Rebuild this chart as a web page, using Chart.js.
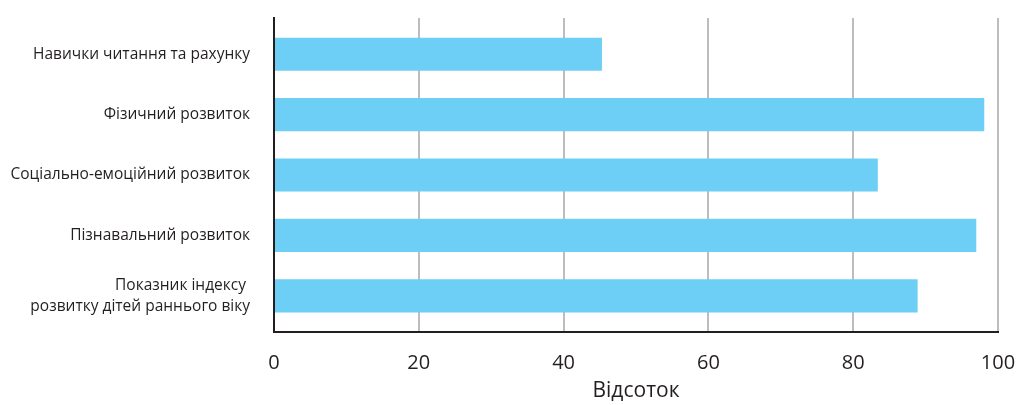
<!DOCTYPE html>
<html>
<head>
<meta charset="utf-8">
<script src="https://cdn.jsdelivr.net/npm/chart.js@4"></script>
<style>
  html, body { margin: 0; background: #fff; }
  #wrap { width: 1017px; height: 405px; }
</style>
</head>
<body>
<div id="wrap"><canvas id="chart"></canvas></div>
<script>
const categories = [
  "Навички читання та рахунку",
  "Фізичний розвиток",
  "Соціально-емоційний розвиток",
  "Пізнавальний розвиток",
  ["Показник індексу ", "розвитку дітей раннього віку"]
];
const values = [45.3, 98.1, 83.4, 97.0, 88.9];
const xTicks = [0, 20, 40, 60, 80, 100];
const xTitle = "Відсоток";

const textColor = "#231f20";
const fontFamily = "'Open Sans', sans-serif";

const ctx = document.getElementById("chart");

let chart = new Chart(ctx, {
  type: "bar",
  data: {
    datasets: [{
      data: values.map((v, i) => ({ x: v, y: i })),
      backgroundColor: "#6dcff6",
      categoryPercentage: 1,
      barPercentage: 0.55
    }]
  },
  options: {
    indexAxis: "y",
    responsive: true,
    maintainAspectRatio: false,
    animation: false,
    layout: { padding: { top: 18, right: 19, left: 0, bottom: 0 } },
    plugins: { legend: { display: false }, tooltip: { enabled: false } },
    scales: {
      x: {
        type: "linear",
        min: 0,
        max: 100,
        afterBuildTicks: s => { s.ticks = xTicks.map(v => ({ value: v })); },
        afterFit: s => { s.height = 73; s.paddingLeft = 0; s.paddingRight = 0; },
        grid: { color: "#bdbdc1", lineWidth: 2, drawTicks: false },
        border: { color: textColor, width: 2 },
        ticks: { color: textColor, font: { family: fontFamily, size: 20 }, padding: 19 },
        title: {
          display: true,
          text: xTitle,
          color: textColor,
          font: { family: fontFamily, size: 21 },
          padding: { top: 0, bottom: 1 }
        }
      },
      y: {
        type: "linear",
        offset: false,
        reverse: true,
        min: -0.6,
        max: 4.6,
        afterBuildTicks: s => { s.ticks = categories.map((c, i) => ({ value: i })); },
        afterFit: s => { s.width = 274; s.paddingTop = 0; s.paddingBottom = 0; },
        grid: { display: false },
        border: { color: textColor, width: 2 },
        ticks: {
          autoSkip: false,
          color: textColor,
          font: { family: fontFamily, size: 15.5, lineHeight: 1.35 },
          padding: 16,
          callback: v => categories[v]
        }
      }
    }
  }
});
</script>
</body>
</html>
